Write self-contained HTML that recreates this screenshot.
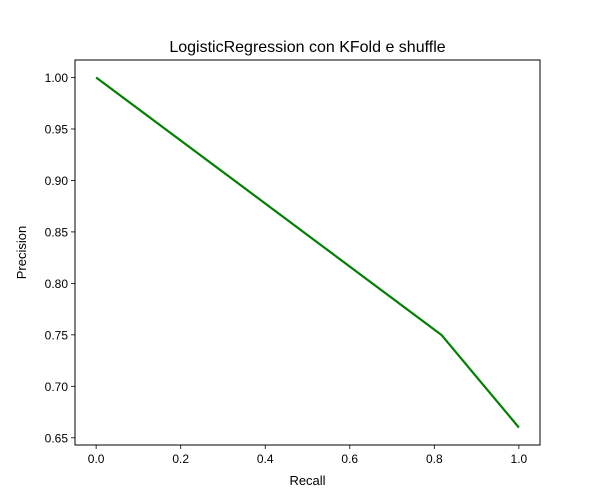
<!DOCTYPE html>
<html><head><meta charset="utf-8"><style>
html,body{margin:0;padding:0;background:#fff;}
svg{display:block;font-family:"Liberation Sans","DejaVu Sans",sans-serif;}
</style></head><body>
<svg id="chart" width="600" height="500" viewBox="0 0 600 500">
<rect x="0" y="0" width="600" height="500" fill="#fff"/>
<text x="307.5" y="52" text-anchor="middle" font-size="16">LogisticRegression con KFold e shuffle</text>
<text x="307.5" y="485" text-anchor="middle" font-size="13">Recall</text>
<text x="26" y="252.5" text-anchor="middle" font-size="13" transform="rotate(-90 26 252.5)">Precision</text>
<g id="xticks"></g>
<g id="yticks"></g>
<g id="series"></g>
<rect x="75" y="60" width="465" height="385" fill="none" stroke="#000" stroke-width="1"/>
</svg>
<script>
const recall = [0, 0.8167, 1];
const precision = [1.0, 0.75, 0.66];
const xTickLabels = ["0.0","0.2","0.4","0.6","0.8","1.0"];
const yTickLabels = ["0.65","0.70","0.75","0.80","0.85","0.90","0.95","1.00"];

const L=75,R=540,T=60,B=445;
const xmin=Math.min(...recall),xmax=Math.max(...recall);
const ymin=Math.min(...precision),ymax=Math.max(...precision);
const xp=(xmax-xmin)*0.05, yp=(ymax-ymin)*0.05;
const X=v=>L+(v-(xmin-xp))/((xmax+xp)-(xmin-xp))*(R-L);
const Y=v=>B-(v-(ymin-yp))/((ymax+yp)-(ymin-yp))*(B-T);
const NS="http://www.w3.org/2000/svg";
function mk(tag,attrs,parent){const e=document.createElementNS(NS,tag);for(const k in attrs)e.setAttribute(k,attrs[k]);parent.appendChild(e);return e;}
const gx=document.getElementById('xticks'),gy=document.getElementById('yticks'),gs=document.getElementById('series');
xTickLabels.forEach(t=>{
  const x=X(parseFloat(t));
  const l=mk('line',{x1:x,x2:x,y1:B,y2:B+4,stroke:'#000','stroke-width':0.8},gx);
  
  
  const tx=mk('text',{x:x,y:B+18,'text-anchor':'middle','font-size':12},gx);
  tx.textContent=t;
  
  
});
yTickLabels.forEach(t=>{
  const y=Y(parseFloat(t));
  const l=mk('line',{x1:L-4,x2:L,y1:y,y2:y,stroke:'#000','stroke-width':0.8},gy);
  
  
  const tx=mk('text',{x:L-7,y:y+4.5,'text-anchor':'end','font-size':12},gy);
  tx.textContent=t;
  
  
});
const pts=recall.map((r,i)=>X(r)+','+Y(precision[i])).join(' ');
const pl=mk('polyline',{points:pts,fill:'none',stroke:'#008000','stroke-width':2.2,'stroke-linejoin':'round'},gs);


</script>
</body></html>
